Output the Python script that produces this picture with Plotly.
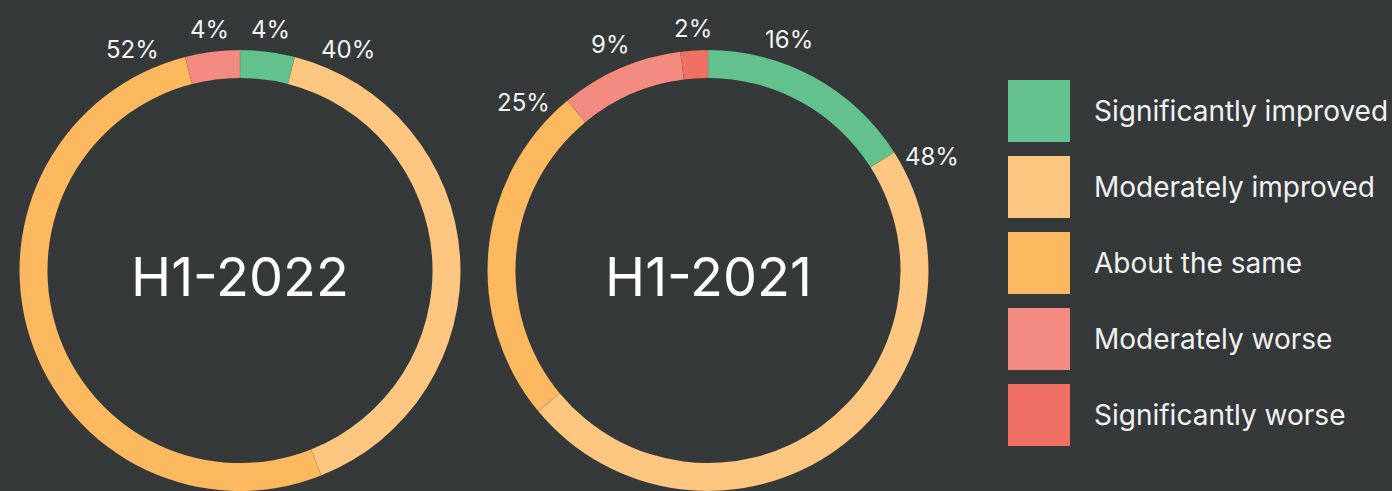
import math
import plotly.graph_objects as go

# ---- data ----
categories = ["Significantly improved", "Moderately improved", "About the same",
              "Moderately worse", "Significantly worse"]
colors = ["#63C18D", "#FDC782", "#FDB960", "#F38B80", "#F07063"]
h1_2022 = [4, 40, 52, 4, 0]
h1_2021 = [16, 48, 25, 9, 2]
chart_titles = ["H1-2022", "H1-2021"]

W, H = 1392, 491
BG = "#36393A"
FONT = "Inter"

R_OUT = 221
HOLE = 0.873
centers = [(240, 271), (708, 271)]

fig = go.Figure()


def label_fraction(start, end, share):
    """Angle (fraction of the circle) where a slice's % label sits:
    small slices at their middle, larger ones just inside the edge nearest the top."""
    if share <= 0.1:
        return (start + end) / 2
    if start == 0:
        return share / 3
    mid = (start + end) / 2
    edge = start if mid < 0.5 else end
    edge_deg = min(edge, 1 - edge) * 360
    off = max(0.01, 0.0377 - 0.000394 * edge_deg)
    return start + off if mid < 0.5 else end - off


annotations = []
for (cx, cy), vals, title in zip(centers, [h1_2022, h1_2021], chart_titles):
    x0, x1 = (cx - R_OUT) / W, (cx + R_OUT) / W
    y0, y1 = 1 - (cy + R_OUT) / H, 1 - (cy - R_OUT) / H
    fig.add_trace(go.Pie(
        labels=categories, values=vals, sort=False, direction="clockwise",
        rotation=0, hole=HOLE, textinfo="none", hoverinfo="label+percent",
        marker=dict(colors=colors, line=dict(color="rgba(0,0,0,0.08)", width=0.6)),
        domain=dict(x=[x0, x1], y=[max(0, y0), min(1, y1)]),
        showlegend=False,
    ))
    annotations.append(dict(x=cx / W, y=1 - (cy + 5) / H, xref="paper", yref="paper",
                            text=title, showarrow=False, xanchor="center", yanchor="middle",
                            font=dict(family=FONT, size=54, color="#FFFFFF")))
    total = sum(vals)
    cum = 0
    for v in vals:
        start, end = cum / total, (cum + v) / total
        cum += v
        if v == 0:
            continue
        share = v / total
        frac = label_fraction(start, end, share)
        ang = 2 * math.pi * frac
        lr = 242 + 11 * abs(math.sin(ang))
        lx = cx + lr * math.sin(ang)
        ly = cy - lr * math.cos(ang)
        annotations.append(dict(x=lx / W, y=1 - ly / H, xref="paper", yref="paper",
                                text=f"{round(share * 100)}%", showarrow=False,
                                xanchor="center", yanchor="middle",
                                font=dict(family=FONT, size=24, color="#F2F2F2")))

# ---- legend (pixel-space hidden axes) ----
LEG_X = 1039
LEG_Y0 = 111
LEG_STEP = 76
leg_y = [LEG_Y0 + i * LEG_STEP for i in range(len(categories))]
fig.add_trace(go.Scatter(
    x=[LEG_X] * len(categories), y=leg_y, mode="markers",
    marker=dict(symbol="square", size=62, color=colors, line=dict(width=0)),
    hoverinfo="text", hovertext=categories, showlegend=False,
))
for cat, y in zip(categories, leg_y):
    annotations.append(dict(x=1092, y=y, xref="x", yref="y", text=cat, showarrow=False,
                            xanchor="left", yanchor="middle",
                            font=dict(family=FONT, size=28, color="#F2F2F2")))

fig.update_layout(
    width=W, height=H, paper_bgcolor=BG, plot_bgcolor=BG,
    margin=dict(l=0, r=0, t=0, b=0),
    xaxis=dict(range=[0, W], visible=False, fixedrange=True),
    yaxis=dict(range=[H, 0], visible=False, fixedrange=True),
    annotations=annotations,
    showlegend=False,
)

fig.write_html(
    "out.html",
    config={"displayModeBar": False},
    post_script="document.body.style.margin='0';document.body.style.background='" + BG + "';"
                "document.body.style.overflow='hidden';",
)
